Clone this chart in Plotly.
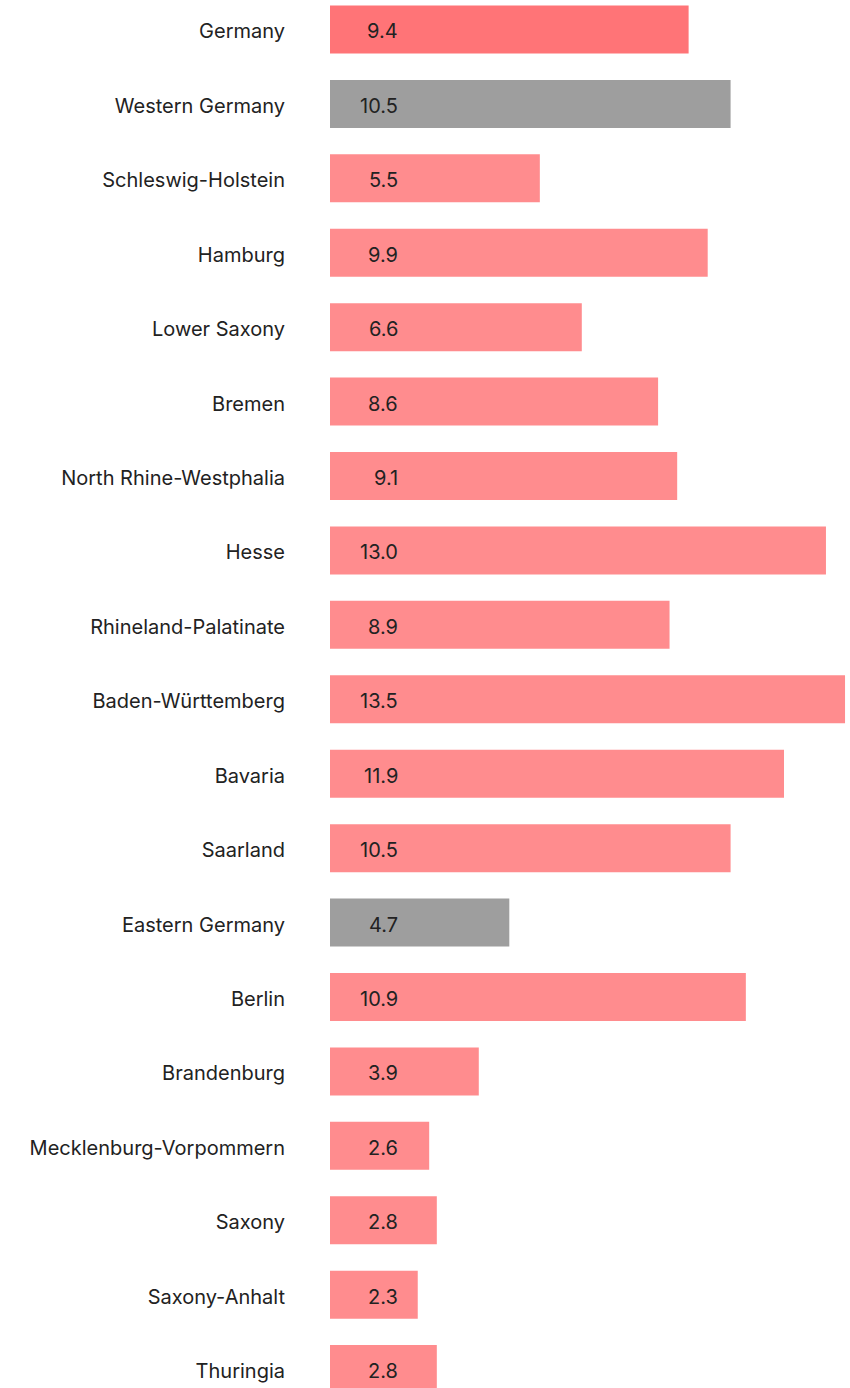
import plotly.graph_objects as go

regions = ["Germany", "Western Germany", "Schleswig-Holstein", "Hamburg", "Lower Saxony",
           "Bremen", "North Rhine-Westphalia", "Hesse", "Rhineland-Palatinate",
           "Baden-Württemberg", "Bavaria", "Saarland", "Eastern Germany", "Berlin",
           "Brandenburg", "Mecklenburg-Vorpommern", "Saxony", "Saxony-Anhalt", "Thuringia"]
values = [9.4, 10.5, 5.5, 9.9, 6.6, 8.6, 9.1, 13.0, 8.9, 13.5, 11.9, 10.5, 4.7, 10.9,
          3.9, 2.6, 2.8, 2.3, 2.8]

def color_for(name):
    if name == "Germany":
        return "#FF7477"
    if name in ("Western Germany", "Eastern Germany"):
        return "#9E9E9E"
    return "#FF8C8E"

colors = [color_for(r) for r in regions]
font = "Inter, Roboto, sans-serif"

fig = go.Figure()
fig.add_trace(go.Bar(
    y=regions, x=values, orientation="h", marker=dict(color=colors, line=dict(width=0)),
    width=0.645, hoverinfo="skip"))

for r, v in zip(regions, values):
    fig.add_annotation(x=1.84, y=r, text=f"{v:.1f}", showarrow=False,
                       xanchor="right", yanchor="middle", yshift=-2,
                       font=dict(family=font, size=20, color="#222222"))

fig.update_layout(
    width=850, height=1388, margin=dict(l=330, r=0, t=0, b=0),
    plot_bgcolor="white", paper_bgcolor="white", showlegend=False,
    xaxis=dict(range=[0, 13.63], visible=False, fixedrange=True),
    yaxis=dict(type="category", categoryorder="array", categoryarray=regions,
               range=[18.254, -0.396], showgrid=False, zeroline=False, showline=False,
               ticks="", ticklabelstandoff=44, ticklabelshift=-2,
               tickfont=dict(family=font, size=20, color="#222222")),
)
fig.write_html("out.html")
